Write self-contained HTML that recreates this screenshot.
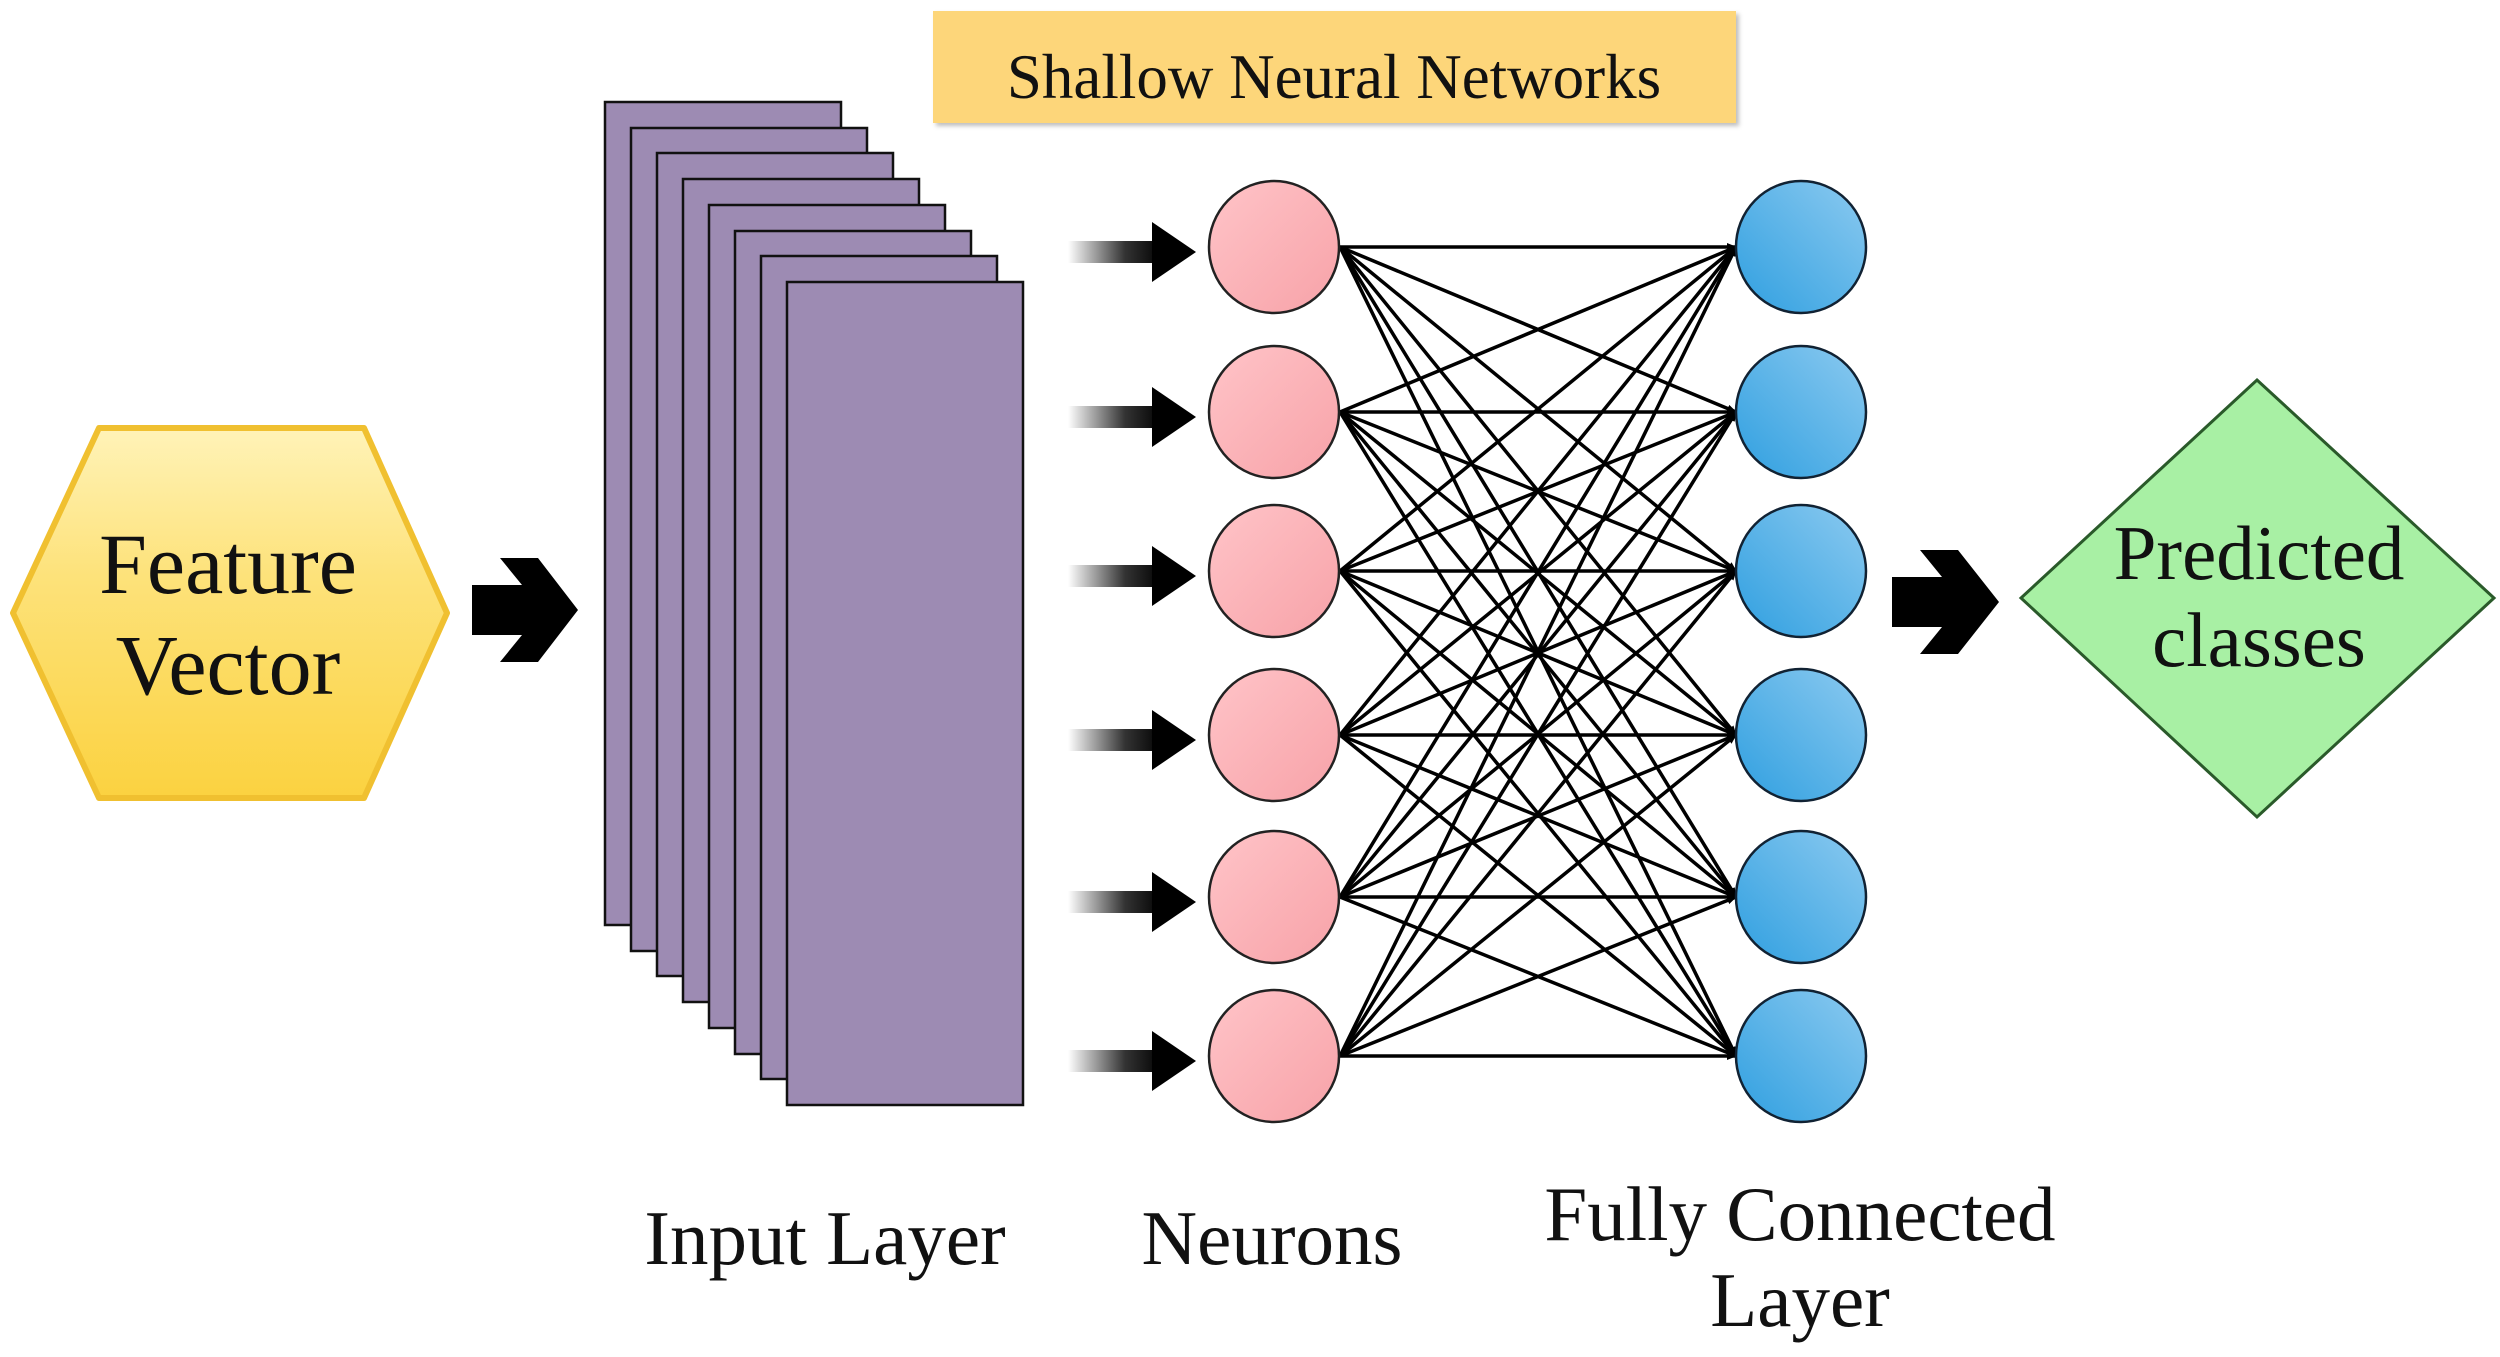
<!DOCTYPE html>
<html><head><meta charset="utf-8"><style>
html,body{margin:0;padding:0;background:#fff}
svg{display:block}
text{font-family:"Liberation Serif",serif;fill:#111}
</style></head><body>
<svg width="2500" height="1357" viewBox="0 0 2500 1357" xmlns="http://www.w3.org/2000/svg">
<defs>
<linearGradient id="hex" x1="0" y1="0" x2="0" y2="1">
<stop offset="0" stop-color="#fff3b8"/><stop offset="0.4" stop-color="#fde27a"/><stop offset="1" stop-color="#fbd240"/>
</linearGradient>
<linearGradient id="pink" x1="0" y1="0" x2="1" y2="1">
<stop offset="0" stop-color="#ffc4c8"/><stop offset="1" stop-color="#f7a2a8"/>
</linearGradient>
<linearGradient id="blue" x1="0" y1="1" x2="1" y2="0">
<stop offset="0" stop-color="#2f9fe0"/><stop offset="1" stop-color="#8ccaf0"/>
</linearGradient>
<linearGradient id="shaft" x1="0" y1="0" x2="1" y2="0">
<stop offset="0" stop-color="#fff"/><stop offset="0.6" stop-color="#333"/><stop offset="1" stop-color="#000"/>
</linearGradient>
<marker id="ah" markerWidth="10" markerHeight="10" refX="9" refY="5" orient="auto" markerUnits="userSpaceOnUse" viewBox="0 0 10 10">
<path d="M0,1 L10,5 L0,9 Z" fill="#000"/>
</marker>
<filter id="sh"><feDropShadow dx="3" dy="3" stdDeviation="2" flood-color="#000" flood-opacity="0.25"/></filter>
</defs>

<rect x="933" y="11" width="803" height="112" fill="#fdd67a" filter="url(#sh)"/>
<text x="1334" y="98" font-size="63" text-anchor="middle">Shallow Neural Networks</text>

<polygon points="99,428 364,428 447,613 364,798 99,798 13,613" fill="url(#hex)" stroke="#f0c030" stroke-width="6" stroke-linejoin="round"/>
<text x="228" y="593" font-size="86" text-anchor="middle">Feature</text>
<text x="228" y="694" font-size="86" text-anchor="middle">Vector</text>

<polygon points="472,585 522,585 500,558 538,558 578,610 538,662 500,662 522,635 472,635" fill="#000"/>

<g fill="#9d8bb3" stroke="#111" stroke-width="2.5">
<rect x="605" y="102" width="236" height="823"/>
<rect x="631" y="128" width="236" height="823"/>
<rect x="657" y="153" width="236" height="823"/>
<rect x="683" y="179" width="236" height="823"/>
<rect x="709" y="205" width="236" height="823"/>
<rect x="735" y="231" width="236" height="823"/>
<rect x="761" y="256" width="236" height="823"/>
<rect x="787" y="282" width="236" height="823"/>
</g>

<g id="sa">
<rect x="1068" y="241" width="95" height="22" fill="url(#shaft)"/>
<polygon points="1152,222 1196,252 1152,282" fill="#000"/>
</g>
<use href="#sa" y="165"/>
<use href="#sa" y="324"/>
<use href="#sa" y="488"/>
<use href="#sa" y="650"/>
<use href="#sa" y="809"/>

<g stroke="#000" stroke-width="3.5" marker-end="url(#ah)">
<line x1="1340" y1="247" x2="1736" y2="247"/><line x1="1340" y1="247" x2="1736" y2="412"/><line x1="1340" y1="247" x2="1736" y2="571"/><line x1="1340" y1="247" x2="1736" y2="735"/><line x1="1340" y1="247" x2="1736" y2="897"/><line x1="1340" y1="247" x2="1736" y2="1056"/>
<line x1="1340" y1="412" x2="1736" y2="247"/><line x1="1340" y1="412" x2="1736" y2="412"/><line x1="1340" y1="412" x2="1736" y2="571"/><line x1="1340" y1="412" x2="1736" y2="735"/><line x1="1340" y1="412" x2="1736" y2="897"/><line x1="1340" y1="412" x2="1736" y2="1056"/>
<line x1="1340" y1="571" x2="1736" y2="247"/><line x1="1340" y1="571" x2="1736" y2="412"/><line x1="1340" y1="571" x2="1736" y2="571"/><line x1="1340" y1="571" x2="1736" y2="735"/><line x1="1340" y1="571" x2="1736" y2="897"/><line x1="1340" y1="571" x2="1736" y2="1056"/>
<line x1="1340" y1="735" x2="1736" y2="247"/><line x1="1340" y1="735" x2="1736" y2="412"/><line x1="1340" y1="735" x2="1736" y2="571"/><line x1="1340" y1="735" x2="1736" y2="735"/><line x1="1340" y1="735" x2="1736" y2="897"/><line x1="1340" y1="735" x2="1736" y2="1056"/>
<line x1="1340" y1="897" x2="1736" y2="247"/><line x1="1340" y1="897" x2="1736" y2="412"/><line x1="1340" y1="897" x2="1736" y2="571"/><line x1="1340" y1="897" x2="1736" y2="735"/><line x1="1340" y1="897" x2="1736" y2="897"/><line x1="1340" y1="897" x2="1736" y2="1056"/>
<line x1="1340" y1="1056" x2="1736" y2="247"/><line x1="1340" y1="1056" x2="1736" y2="412"/><line x1="1340" y1="1056" x2="1736" y2="571"/><line x1="1340" y1="1056" x2="1736" y2="735"/><line x1="1340" y1="1056" x2="1736" y2="897"/><line x1="1340" y1="1056" x2="1736" y2="1056"/>
</g>

<g fill="url(#pink)" stroke="#222" stroke-width="2.5">
<ellipse cx="1274" cy="247" rx="65" ry="66"/><ellipse cx="1274" cy="412" rx="65" ry="66"/><ellipse cx="1274" cy="571" rx="65" ry="66"/><ellipse cx="1274" cy="735" rx="65" ry="66"/><ellipse cx="1274" cy="897" rx="65" ry="66"/><ellipse cx="1274" cy="1056" rx="65" ry="66"/>
</g>
<g fill="url(#blue)" stroke="#123" stroke-width="2.5">
<ellipse cx="1801" cy="247" rx="65" ry="66"/><ellipse cx="1801" cy="412" rx="65" ry="66"/><ellipse cx="1801" cy="571" rx="65" ry="66"/><ellipse cx="1801" cy="735" rx="65" ry="66"/><ellipse cx="1801" cy="897" rx="65" ry="66"/><ellipse cx="1801" cy="1056" rx="65" ry="66"/>
</g>

<polygon points="1892,577 1942,577 1920,550 1958,550 1999,602 1958,654 1920,654 1942,627 1892,627" fill="#000"/>

<polygon points="2257,380 2494,598 2257,817 2021,598" fill="#a8f0a4" stroke="#2a5a2a" stroke-width="3"/>
<text x="2259" y="579" font-size="77" text-anchor="middle">Predicted</text>
<text x="2259" y="666" font-size="77" text-anchor="middle">classes</text>

<text x="825" y="1264" font-size="77" text-anchor="middle">Input Layer</text>
<text x="1272" y="1264" font-size="77" text-anchor="middle">Neurons</text>
<text x="1800" y="1240" font-size="77" text-anchor="middle">Fully Connected</text>
<text x="1800" y="1326" font-size="77" text-anchor="middle">Layer</text>
</svg>
</body></html>
